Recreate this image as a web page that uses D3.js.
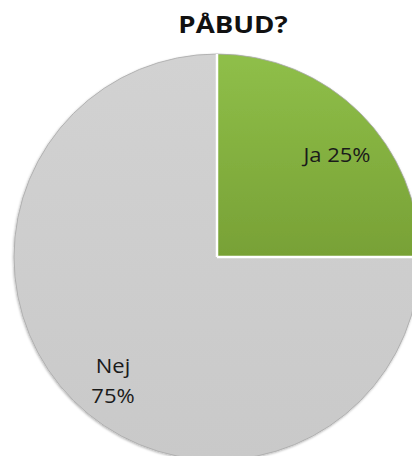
<!DOCTYPE html>
<html>
<head>
<meta charset="utf-8">
<script src="https://cdn.jsdelivr.net/npm/d3@7"></script>
<style>
  body { margin: 0; background: #fff; }
  svg { display: block; font-family: "Open Sans", sans-serif; }
</style>
</head>
<body>
<div id="chart"></div>
<script>
// chart data
var title = "PÅBUD?";
var categories = ["Ja", "Nej"];
var values = [25, 75];
var labelWrap = [false, true]; // Nej label sits on two lines

var w = 412, h = 456;
var cx = 217, cy = 257, r = 203;

var svg = d3.select("#chart").append("svg")
    .attr("width", w)
    .attr("height", h);

var defs = svg.append("defs");

// green gradient, a bit lighter at top
var gGreen = defs.append("linearGradient")
    .attr("id", "gradGreen")
    .attr("x1", 0).attr("y1", 0).attr("x2", 0).attr("y2", 1);
gGreen.append("stop").attr("offset", "0%").attr("stop-color", "#8fbf49");
gGreen.append("stop").attr("offset", "100%").attr("stop-color", "#78a136");

var gGrey = defs.append("linearGradient")
    .attr("id", "gradGrey")
    .attr("x1", 0).attr("y1", 0).attr("x2", 0).attr("y2", 1);
gGrey.append("stop").attr("offset", "0%").attr("stop-color", "#d2d2d2");
gGrey.append("stop").attr("offset", "100%").attr("stop-color", "#c9c9c9");

var shadow = defs.append("filter").attr("id", "shadow")
    .attr("x", "-10%").attr("y", "-10%").attr("width", "120%").attr("height", "120%");
shadow.append("feDropShadow")
    .attr("dx", -0.5).attr("dy", 1)
    .attr("stdDeviation", 1)
    .attr("flood-color", "#000")
    .attr("flood-opacity", 0.3);

var fills = d3.scaleOrdinal()
    .domain(categories)
    .range(["url(#gradGreen)", "url(#gradGrey)"]);

var pie = d3.pie().sort(null).value(function (d) { return d.value; });
var arc = d3.arc().innerRadius(0).outerRadius(r);
var labelArc = d3.arc().innerRadius(r * 0.78).outerRadius(r * 0.78);

var data = categories.map(function (c, i) {
    return { cat: c, value: values[i], wrap: labelWrap[i] };
});
var arcs = pie(data);

var g = svg.append("g").attr("transform", "translate(" + cx + "," + cy + ")");

var slices = g.append("g").attr("filter", "url(#shadow)");

slices.selectAll("path.slice")
    .data(arcs)
    .enter()
    .append("path")
    .attr("class", "slice")
    .attr("d", arc)
    .attr("fill", function (d) { return fills(d.data.cat); })
    .attr("stroke", "#a8a8a8")
    .attr("stroke-width", 0.8);

// white separators between slices
slices.selectAll("line.sep")
    .data(arcs)
    .enter()
    .append("line")
    .attr("class", "sep")
    .attr("x1", 0).attr("y1", 0)
    .attr("x2", function (d) { return Math.sin(d.startAngle) * r; })
    .attr("y2", function (d) { return -Math.cos(d.startAngle) * r; })
    .attr("stroke", "#fff")
    .attr("stroke-width", 2.5);

// labels
var labels = g.selectAll("text.label")
    .data(arcs)
    .enter()
    .append("text")
    .attr("class", "label")
    .attr("transform", function (d) {
        var c = labelArc.centroid(d);
        return "translate(" + (c[0] + 8) + "," + (c[1] + 10) + ") scale(1.1,1)";
    })
    .attr("text-anchor", "middle")
    .attr("font-size", 20)
    .attr("fill", "#1a1a1a");

labels.each(function (d) {
    var t = d3.select(this);
    var pct = d.data.value + "%";
    if (d.data.wrap) {
        t.append("tspan").attr("x", 0).attr("dy", "-0.3em").text(d.data.cat);
        t.append("tspan").attr("x", 0).attr("dy", "1.5em").text(pct);
    } else {
        t.append("tspan").attr("x", 0).attr("dy", "0.35em").text(d.data.cat + " " + pct);
    }
});

svg.append("text")
    .attr("transform", "translate(233,33) scale(1.15,1)")
    .attr("text-anchor", "middle")
    .attr("font-size", 24)
    .attr("font-weight", "bold")
    .attr("fill", "#111")
    .text(title);
</script>
</body>
</html>
